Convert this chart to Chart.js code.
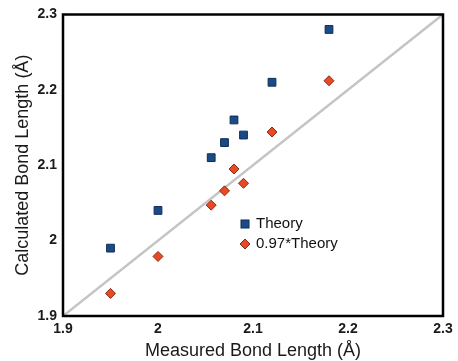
<!DOCTYPE html>
<html>
<head>
<meta charset="utf-8">
<script src="https://cdn.jsdelivr.net/npm/chart.js@4/dist/chart.umd.min.js"></script>
<style>
  html, body { margin: 0; padding: 0; background: #fff; }
  #wrap { width: 458px; height: 361px; }
</style>
</head>
<body>
<div id="wrap"><canvas id="bondChart" width="458" height="361"></canvas></div>
<script>
// measured vs calculated bond lengths (Å)
const measured = [1.95, 2.0, 2.056, 2.07, 2.08, 2.09, 2.12, 2.18];
const theory = [1.99, 2.04, 2.11, 2.13, 2.16, 2.14, 2.21, 2.28];
const scaledTheory = [1.930, 1.979, 2.047, 2.066, 2.095, 2.076, 2.144, 2.212];
const tickValues = [1.9, 2.0, 2.1, 2.2, 2.3];
const seriesNames = ['Theory', '0.97*Theory'];

const toPoints = (xs, ys) => xs.map((x, i) => ({ x, y: ys[i] }));
const FONT = '"Liberation Sans", Arial, sans-serif';

const fmt = v => {
  const r = Math.round(v * 10) / 10;
  return r === 2 ? '2' : r.toFixed(1);
};

// black frame around the plot + legend inside it
const frameLegend = {
  id: 'frameLegend',
  afterDatasetsDraw(chart) {
    const ctx = chart.ctx;
    const a = chart.chartArea;
    ctx.save();
    ctx.beginPath();
    ctx.moveTo(a.left, a.top);
    ctx.lineTo(a.right, a.top);
    ctx.lineTo(a.right, a.bottom);
    ctx.lineTo(a.left, a.bottom);
    ctx.closePath();
    ctx.lineWidth = 2.5;
    ctx.strokeStyle = '#000000';
    ctx.stroke();

    const lx = 245, ly = [224, 244];
    ctx.lineWidth = 1;
    // square marker
    ctx.fillStyle = '#1b4b86';
    ctx.strokeStyle = '#0f2d55';
    ctx.fillRect(lx - 4, ly[0] - 4, 8, 8);
    ctx.strokeRect(lx - 4, ly[0] - 4, 8, 8);
    // diamond marker
    ctx.beginPath();
    ctx.moveTo(lx, ly[1] - 5);
    ctx.lineTo(lx + 5, ly[1]);
    ctx.lineTo(lx, ly[1] + 5);
    ctx.lineTo(lx - 5, ly[1]);
    ctx.closePath();
    ctx.fillStyle = '#e84a27';
    ctx.fill();
    ctx.strokeStyle = '#8a2a12';
    ctx.stroke();

    ctx.font = '15px ' + FONT;
    ctx.textBaseline = 'middle';
    ctx.textAlign = 'left';
    ctx.fillStyle = '#111';
    ctx.fillText(seriesNames[0], lx + 11, ly[0]);
    ctx.fillText(seriesNames[1], lx + 11, ly[1]);
    ctx.restore();
  }
};

new Chart(document.getElementById('bondChart'), {
  type: 'scatter',
  data: {
    datasets: [
      {
        label: 'y = x',
        data: [{ x: tickValues[0], y: tickValues[0] }, { x: tickValues[4], y: tickValues[4] }],
        showLine: true,
        borderColor: '#c4c4c4',
        borderWidth: 2.5,
        pointRadius: 0,
        order: 3
      },
      {
        label: seriesNames[0],
        data: toPoints(measured, theory),
        pointStyle: 'rect',
        pointRadius: 5.5,
        backgroundColor: '#1b4b86',
        borderColor: '#0f2d55',
        borderWidth: 1,
        order: 1
      },
      {
        label: seriesNames[1],
        data: toPoints(measured, scaledTheory),
        pointStyle: 'rectRot',
        pointRadius: 5,
        backgroundColor: '#e84a27',
        borderColor: '#8a2a12',
        borderWidth: 1,
        order: 2
      }
    ]
  },
  options: {
    responsive: false,
    animation: false,
    layout: { padding: { top: 12, right: 15, left: 0, bottom: 0 } },
    plugins: { legend: { display: false }, tooltip: { enabled: false } },
    scales: {
      x: {
        type: 'linear',
        min: 1.9, max: 2.3,
        afterBuildTicks: s => { s.ticks = tickValues.map(v => ({ value: v })); },
        afterFit: s => { s.height = 45; },
        grid: { display: false, drawTicks: false },
        border: { display: false },
        ticks: {
          callback: fmt, color: '#1a1a1a', padding: 5,
          font: { family: FONT, size: 14, weight: 'bold' }, maxRotation: 0
        },
        title: {
          display: true, text: 'Measured Bond Length (Å)', color: '#1a1a1a',
          font: { family: FONT, size: 18 }, padding: { top: 0, bottom: -1 }
        }
      },
      y: {
        type: 'linear',
        min: 1.9, max: 2.3,
        afterBuildTicks: s => { s.ticks = tickValues.map(v => ({ value: v })); },
        afterFit: s => { s.width = 63; },
        grid: { display: false, drawTicks: false },
        border: { display: false },
        ticks: {
          callback: fmt, color: '#1a1a1a', padding: 6,
          font: { family: FONT, size: 14, weight: 'bold' }
        },
        title: {
          display: true, text: 'Calculated Bond Length (Å)', color: '#1a1a1a',
          font: { family: FONT, size: 18 }, padding: { top: 12, bottom: 0 }
        }
      }
    }
  },
  plugins: [frameLegend]
});
</script>
</body>
</html>
